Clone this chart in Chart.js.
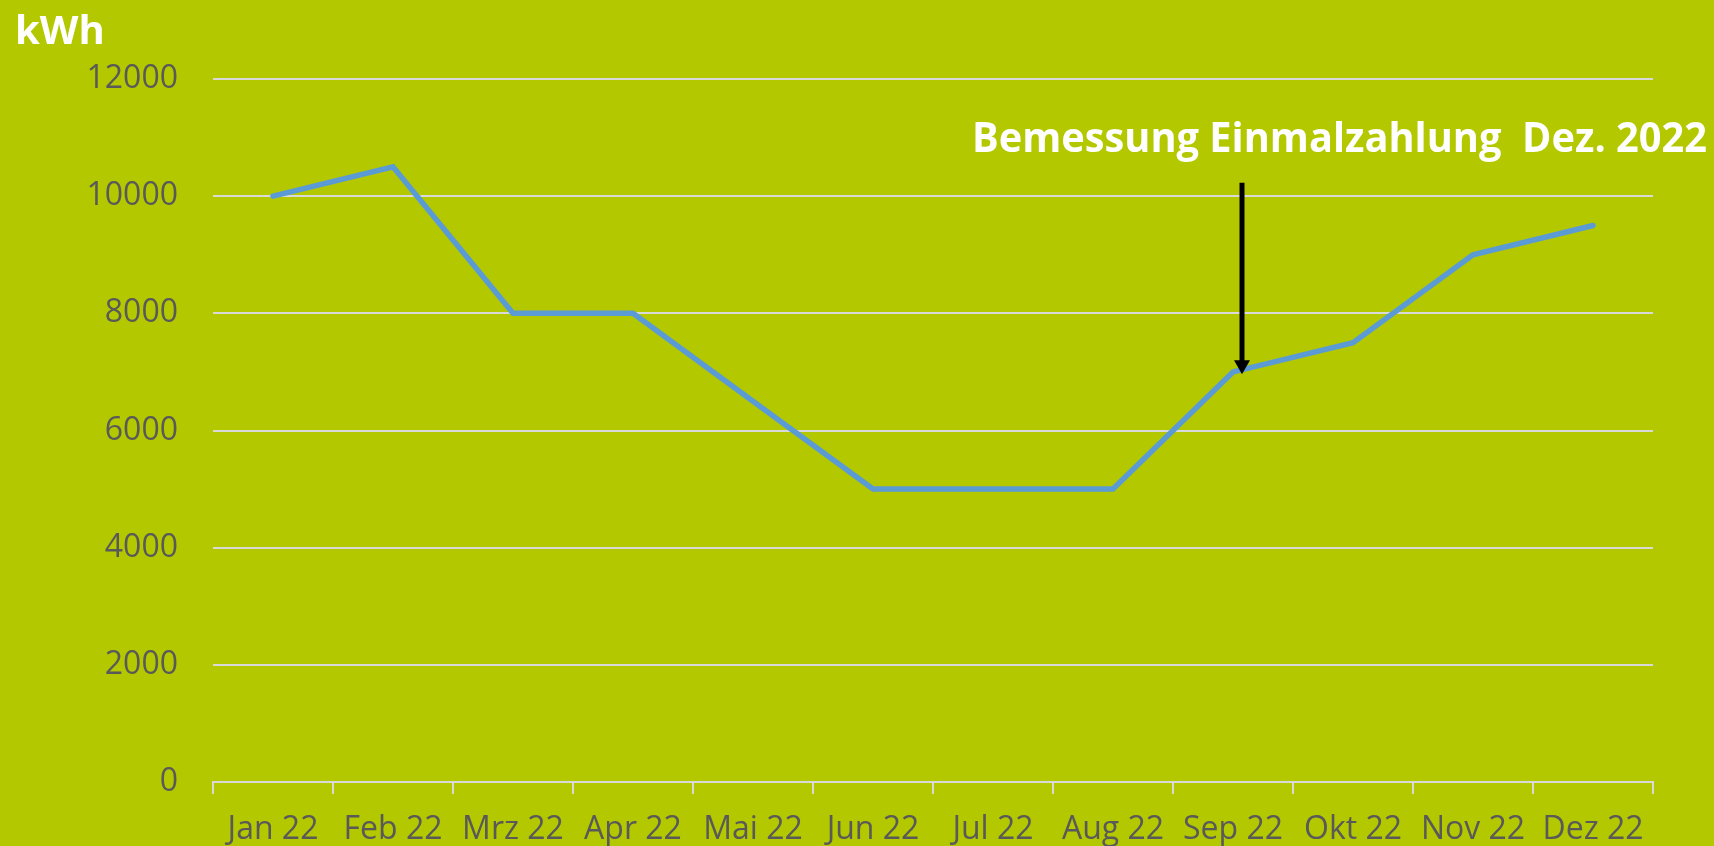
<!DOCTYPE html>
<html>
<head>
<meta charset="utf-8">
<script src="https://cdn.jsdelivr.net/npm/chart.js@4"></script>
<style>
  html, body { margin: 0; padding: 0; background: #b4c800; }
  #wrap { width: 1714px; height: 846px; }
</style>
</head>
<body>
<div id="wrap"><canvas id="chart" width="1714" height="846"></canvas></div>
<script>
const months = ['Jan 22', 'Feb 22', 'Mrz 22', 'Apr 22', 'Mai 22', 'Jun 22',
    'Jul 22', 'Aug 22', 'Sep 22', 'Okt 22', 'Nov 22', 'Dez 22'];
const consumption = [10000, 10500, 8000, 8000, 6500, 5000, 5000, 5000, 7000, 7500, 9000, 9500];
const yTicks = [0, 2000, 4000, 6000, 8000, 10000, 12000];
const unitLabel = 'kWh';
const noteText = 'Bemessung Einmalzahlung  Dez. 2022';
const noteMonth = 'Sep 22';
const arrowFrom = 10230;
const arrowTo = 6960;

const bg = '#b4c800';
const gridColour = '#d9d9d9';
const tickColour = '#595959';

// background + kWh + annotation arrow/text
const decorations = {
    id: 'decorations',
    beforeDraw(chart) {
        const ctx = chart.ctx;
        ctx.save();
        ctx.fillStyle = bg;
        ctx.fillRect(0, 0, chart.width, chart.height);
        ctx.restore();
    },
    afterDatasetsDraw(chart) {
        const ctx = chart.ctx;
        const x = chart.scales.x;
        const y = chart.scales.y;
        ctx.save();

        // unit
        ctx.fillStyle = '#ffffff';
        ctx.font = 'bold 40px "Open Sans"';
        ctx.textBaseline = 'alphabetic';
        ctx.textAlign = 'left';
        ctx.fillText(unitLabel, 15, 44);

        // note text, squeezed a bit to match the narrow original face
        ctx.font = 'bold 41px "Open Sans"';
        const w = ctx.measureText(noteText).width;
        const sx = 735 / w;
        ctx.translate(1707, 152);
        ctx.scale(sx, 1);
        ctx.textAlign = 'right';
        ctx.fillText(noteText, 0, 0);
        ctx.setTransform(1, 0, 0, 1, 0, 0);

        // arrow
        const ax = x.getPixelForValue(months.indexOf(noteMonth)) + 9;
        const y0 = y.getPixelForValue(arrowFrom);
        const y1 = y.getPixelForValue(arrowTo);
        ctx.strokeStyle = '#000000';
        ctx.fillStyle = '#000000';
        ctx.lineWidth = 5;
        ctx.beginPath();
        ctx.moveTo(ax, y0);
        ctx.lineTo(ax, y1 - 12);
        ctx.stroke();
        ctx.beginPath();
        ctx.moveTo(ax - 8, y1 - 14);
        ctx.lineTo(ax + 8, y1 - 14);
        ctx.lineTo(ax, y1);
        ctx.closePath();
        ctx.fill();
        ctx.restore();
    }
};

new Chart(document.getElementById('chart'), {
    type: 'line',
    data: {
        labels: months,
        datasets: [{
            data: consumption,
            borderColor: '#5b9bd5',
            borderWidth: 5.5,
            borderCapStyle: 'round',
            pointRadius: 0,
            tension: 0,
            fill: false
        }]
    },
    options: {
        responsive: false,
        animation: false,
        layout: { padding: { left: 0, right: 61, top: 79, bottom: 0 } },
        plugins: {
            legend: { display: false },
            tooltip: { enabled: false }
        },
        scales: {
            x: {
                offset: true,
                grid: {
                    offset: true,
                    drawOnChartArea: false,
                    color: gridColour,
                    lineWidth: 2,
                    tickLength: 12
                },
                border: { color: gridColour, width: 2 },
                ticks: {
                    color: tickColour,
                    font: { family: 'Open Sans', size: 32 },
                    padding: 17,
                    maxRotation: 0,
                    autoSkip: false
                },
                afterFit(scale) { scale.height = 64; }
            },
            y: {
                min: 0,
                max: 12000,
                afterBuildTicks(scale) {
                    scale.ticks = yTicks.map(v => ({ value: v }));
                },
                grid: {
                    color: gridColour,
                    lineWidth: 2,
                    drawTicks: false
                },
                border: { display: false },
                ticks: {
                    color: tickColour,
                    font: { family: 'Open Sans', size: 32 },
                    padding: 35,
                    callback: v => String(v)
                },
                afterFit(scale) { scale.width = 213; }
            }
        }
    },
    plugins: [decorations]
});
</script>
</body>
</html>
